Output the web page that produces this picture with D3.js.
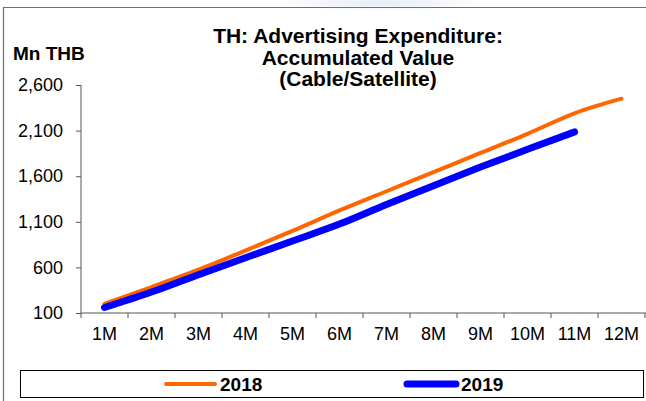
<!DOCTYPE html>
<html>
<head>
<meta charset="utf-8">
<script src="https://cdn.jsdelivr.net/npm/d3@7"></script>
<style>
  body { margin: 0; background: #fff; }
  svg { display: block; font-family: Arial, "Liberation Sans", sans-serif; }
</style>
</head>
<body>
<svg id="chart" width="646" height="401"></svg>
<script>
// ── Data ─────────────────────────────────────────────────────────
const months = ['1M', '2M', '3M', '4M', '5M', '6M', '7M', '8M', '9M', '10M', '11M', '12M'];
const values2018 = [200, 385, 575, 785, 1000, 1225, 1435, 1645, 1855, 2065, 2290, 2450];
const values2019 = [160, 330, 520, 705, 890, 1075, 1290, 1495, 1700, 1895, 2085];
const yTicks = [100, 600, 1100, 1600, 2100, 2600];
const titleLines = ['TH: Advertising Expenditure:', 'Accumulated Value', '(Cable/Satellite)'];

const series = [
  { name: '2018', values: values2018, color: '#ff6600', width: 4 },
  { name: '2019', values: values2019, color: '#0000ff', width: 7 },
];

const svg = d3.select('#chart');

// ── Frame ────────────────────────────────────────────────────────
const glow = svg.append('defs').append('radialGradient').attr('id', 'glow');
glow.append('stop').attr('offset', '0%').attr('stop-color', '#e6ebf7');
glow.append('stop').attr('offset', '100%').attr('stop-color', '#ffffff');
svg.append('ellipse').attr('cx', 380).attr('cy', 3).attr('rx', 110).attr('ry', 8).attr('fill', 'url(#glow)');

svg.append('path')
  .attr('d', 'M3.5,401 V7.5 H646')
  .attr('fill', 'none')
  .attr('stroke', '#707070')
  .attr('stroke-width', 1.2);

// ── Scales ───────────────────────────────────────────────────────
const x = d3.scaleBand().domain(months).range([81, 645]).padding(0);
const y = d3.scaleLinear().domain([100, 2600]).range([313, 85]);

// ── Axes ─────────────────────────────────────────────────────────
const yAxis = svg.append('g')
  .attr('transform', 'translate(81,0)')
  .call(d3.axisLeft(y).tickValues(yTicks).tickFormat(d3.format(',')).tickSize(5).tickPadding(13));
yAxis.select('.domain').attr('d', `M0,${y(2600)}V${y(100)}`);

const xAxis = svg.append('g')
  .attr('transform', `translate(0,${y(100)})`)
  .call(d3.axisBottom(x).tickSize(0).tickPadding(14));
xAxis.select('.domain').attr('d', 'M81,0H646');
xAxis.selectAll('.xtick')
  .data(months.map(m => x(m)).concat([x.range()[1]]))
  .enter().append('line')
  .attr('class', 'xtick')
  .attr('x1', d => d).attr('x2', d => d)
  .attr('y1', 0).attr('y2', 5)
  .attr('stroke', '#555');

[yAxis, xAxis].forEach(a => {
  a.selectAll('.domain, .tick line').attr('stroke', '#555');
  a.selectAll('text').attr('fill', '#000').attr('font-size', '18px').attr('font-family', 'Arial, "Liberation Sans", sans-serif');
});

// ── Lines ────────────────────────────────────────────────────────
const line = d3.line()
  .x((d, i) => x(months[i]) + x.bandwidth() / 2)
  .y(d => y(d))
  .curve(d3.curveMonotoneX);

series.forEach(s => {
  svg.append('path')
    .datum(s.values)
    .attr('d', line)
    .attr('fill', 'none')
    .attr('stroke', s.color)
    .attr('stroke-width', s.width)
    .attr('stroke-linecap', 'round')
    .attr('stroke-linejoin', 'round');
});

// ── Titles ───────────────────────────────────────────────────────
svg.append('text')
  .attr('x', 13).attr('y', 60)
  .attr('font-size', '19px').attr('font-weight', 'bold')
  .text('Mn THB');

svg.append('text')
  .attr('x', 358).attr('y', 43)
  .attr('text-anchor', 'middle')
  .attr('font-size', '21px').attr('font-weight', 'bold')
  .selectAll('tspan')
  .data(titleLines)
  .enter().append('tspan')
  .attr('x', 358)
  .attr('dy', (d, i) => i === 0 ? 0 : 21.5)
  .text(d => d);

// ── Legend ───────────────────────────────────────────────────────
svg.append('rect')
  .attr('x', 20.5).attr('y', 370.5)
  .attr('width', 623).attr('height', 27)
  .attr('fill', '#fff').attr('stroke', '#000');

const legendX = [166, 407];
series.forEach((s, i) => {
  const g = svg.append('g').attr('transform', `translate(${legendX[i]},384)`);
  g.append('line')
    .attr('x1', 0).attr('x2', 49)
    .attr('stroke', s.color).attr('stroke-width', s.width)
    .attr('stroke-linecap', 'round');
  g.append('text')
    .attr('x', 54).attr('y', 7)
    .attr('font-size', '19px').attr('font-weight', 'bold')
    .text(s.name);
});
</script>
</body>
</html>
